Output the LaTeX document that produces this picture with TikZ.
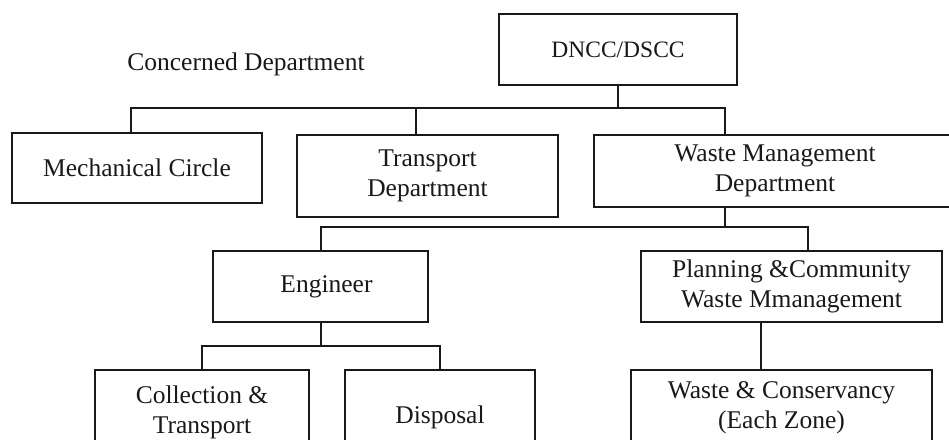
\documentclass[tikz,border=0pt]{standalone}
\usepackage{fontspec}
\setmainfont{Liberation Serif}
\begin{document}
\begin{tikzpicture}[x=1pt,y=-1pt,
  box/.style={draw=black!90, line width=1.8pt, align=center, inner sep=0pt,
    font=\fontsize{25.5}{30}\selectfont, text=black!90},
  link/.style={draw=black!90, line width=1.8pt}]
\useasboundingbox (0,0) rectangle (949,439);
\clip (0,0) rectangle (949,439);
\fill[white] (0,0) rectangle (949,439);
% label
\node[anchor=base, font=\fontsize{25.5}{30}\selectfont, text=black!90, inner sep=0pt] (lbl) at (246,70) {Concerned Department};
% nodes
\node[box, minimum width=238, minimum height=71, font=\fontsize{23.5}{28}\selectfont] (dncc) at (618,49.5) {DNCC/DSCC};
\node[box, minimum width=250, minimum height=70] (mech) at (137,168) {Mechanical Circle};
\node[box, minimum width=261, minimum height=82] (trans) at (427.5,176) {Transport\\Department};
\node[box, minimum width=362, minimum height=72] (wm) at (775,171) {Waste Management\\Department};
\node[box, minimum width=215, minimum height=71] (eng) at (320.5,286.5) {\hspace*{12pt}Engineer};
\node[box, minimum width=301, minimum height=71] (plan) at (791.5,286.5) {Planning \&Community\\Waste Mmanagement};
\node[box, minimum width=214, minimum height=84] (coll) at (202,412) {Collection \&\\Transport};
\node[box, minimum width=190, minimum height=94] (disp) at (440,417) {Disposal};
\node[box, minimum width=301, minimum height=76] (wc) at (781.5,408) {Waste \& Conservancy\\(Each Zone)};
% bars
\coordinate (b1) at (618,108);
\coordinate (b2) at (725,227);
\coordinate (b3) at (321,346);
% connectors
\draw[link] (dncc.south) -- (b1);
\draw[link] (b1) -| ([xshift=-6pt]mech.north);
\draw[link] (b1) -| ([xshift=-11.5pt]trans.north);
\draw[link] (b1) -| ([xshift=-50pt]wm.north);
\draw[link] ([xshift=-50pt]wm.south) -- (b2);
\draw[link] (b2) -| ([xshift=0.5pt]eng.north);
\draw[link] (b2) -| ([xshift=16.5pt]plan.north);
\draw[link] ([xshift=0.5pt]eng.south) -- (b3);
\draw[link] (b3) -| (coll.north);
\draw[link] (b3) -| (disp.north);
\draw[link] ([xshift=-30.5pt]plan.south) -- ([xshift=-20.5pt]wc.north);
\end{tikzpicture}
\end{document}
